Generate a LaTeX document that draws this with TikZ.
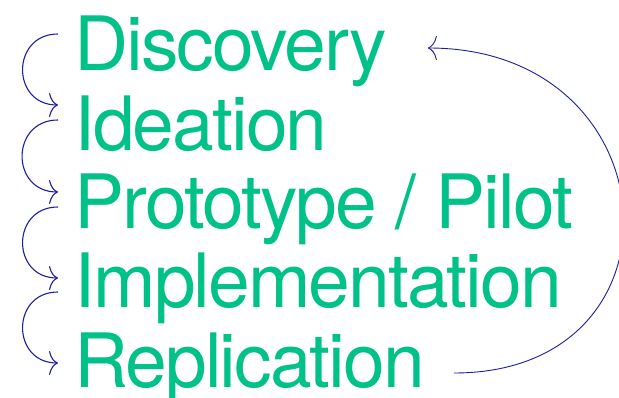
\documentclass[tikz,border=0pt]{standalone}
\usepackage{fontspec}
\newfontfamily\stagefont[LetterSpace=-2.6]{TeX Gyre Heros}
\usetikzlibrary{arrows.meta}
\begin{document}
\begin{tikzpicture}[x=1pt,y=-1pt]
			\definecolor{stagegreen}{RGB}{0, 193, 135}
			\definecolor{loopblue}{RGB}{28, 30, 160}
			\tikzset{
				stage/.style={anchor=base west, inner sep=0pt, text=stagegreen, font=\stagefont\fontsize{75}{79}\selectfont},
				looparrow/.style={draw=loopblue, line width=1.1pt, -{To[length=9pt,width=24pt]}},
				backarrow/.style={draw=loopblue, line width=0.9pt, -{To[length=9pt,width=24pt]}}
			}
			\useasboundingbox (0,0) rectangle (619,398);
			\node[stage] (disc) at (74,71) {Discovery};
			\node[stage] (idea) at (74,151) {Ideation};
			\node[stage] (proto) at (74,229) {Prototype / Pilot};
			\node[stage] (impl) at (74,308) {Implementation};
			\node[stage] (repl) at (74,387) {Replication};
			\foreach \a/\b/\s/\e in {disc/idea/37/46, idea/proto/31/37, proto/impl/22/30, impl/repl/16/24}
				\draw[looparrow] ([shift={(-16,-\s)}]\a.base west) to[out=180,in=180,looseness=1.7] ([shift={(-16,-\e)}]\b.base west);
			\draw[backarrow] ([shift={(29,-14)}]repl.base east) .. controls +(240,0) and +(246,0) .. ([shift={(41,-23)}]disc.base east);
		\end{tikzpicture}
\end{document}
